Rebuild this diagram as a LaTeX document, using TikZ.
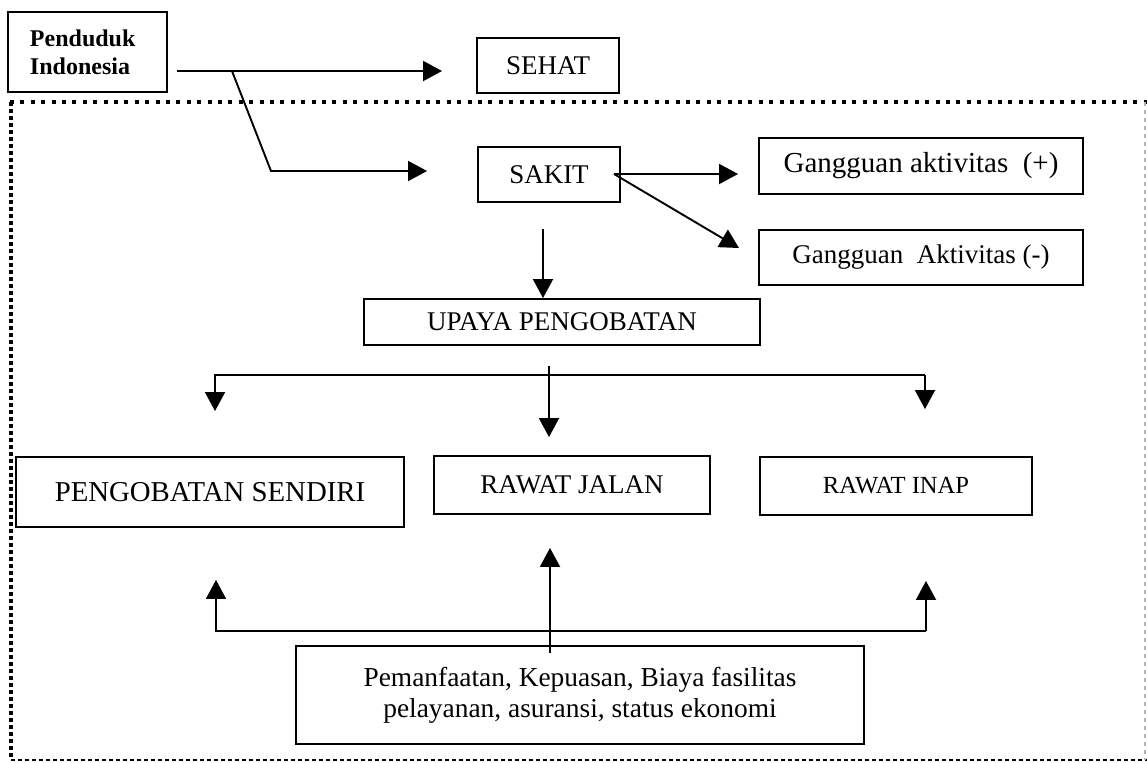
\documentclass[tikz,border=0pt]{standalone}
\usepackage{fontspec}
\setmainfont{Liberation Serif}
\usetikzlibrary{arrows.meta}

\begin{document}
\begin{tikzpicture}[x=0.5pt,y=-0.5pt,
  box/.style={draw, line width=0.95pt, inner sep=0pt, font=\fontsize{13.5}{16}\selectfont},
  arr/.style={line width=0.95pt, -{Triangle[length=9.5pt,width=10pt]}},
  link/.style={line width=0.95pt}]
\useasboundingbox (0,0) rectangle (1147,762);
% dotted frame round the sick branch
\draw[line width=2pt, dash pattern=on 2pt off 3.2pt] (10,102) -- (1147,102);
\draw[line width=2pt, dash pattern=on 2pt off 1.5pt] (11,102) -- (11,760);
\draw[line width=1.2pt, dash pattern=on 2pt off 1.5pt] (11,760) -- (1147,760);
\draw[line width=0.8pt, gray!60, dash pattern=on 2pt off 2pt] (1145,102) -- (1145,760);
% population and first split
\node[box, minimum width=79.5pt, minimum height=40pt, text width=57.5pt, align=left, font=\bfseries\fontsize{12}{14}\selectfont] (pend) at (87.5,52) {Penduduk\\Indonesia};
\node[box, minimum width=71pt, minimum height=27.5pt] (sehat) at (548,65.5) {SEHAT};
\node[box, minimum width=71pt, minimum height=27.5pt] (sakit) at (549,174.5) {SAKIT};
\coordinate (pout) at (177,71);
\coordinate (split) at (232,71);
\coordinate (bend) at (271,171);
\draw[arr, shorten >=17pt] (pout) -- (sehat.west |- pout);
\draw[arr, shorten >=25pt] (split) -- (bend) -- (sakit.west |- bend);
% activity disturbance
\node[box, minimum width=162pt, minimum height=28pt, font=\fontsize{14.5}{16}\selectfont] (gplus) at (921,166) {Gangguan aktivitas~~(+)};
\node[box, minimum width=162pt, minimum height=27.5pt] (gmin) at (921,257.5) {Gangguan~~Aktivitas (-)};
\coordinate (sk) at (614,174);
\coordinate (gmtip) at (739,248);
\draw[arr, shorten >=10pt] (sk) -- (gplus.west |- sk);
\draw[arr] (sk) -- (gmtip);
% treatment effort
\node[box, minimum width=198pt, minimum height=23pt] (upaya) at (562,322) {UPAYA PENGOBATAN};
\coordinate (sd) at (543,229);
\draw[arr] (sd) -- (sd |- upaya.north);
% three kinds of treatment
\node[box, minimum width=194pt, minimum height=35pt, font=\fontsize{14.4}{16}\selectfont] (sendiri) at (210,492) {PENGOBATAN SENDIRI};
\node[box, minimum width=138pt, minimum height=29pt] (jalan) at (572,485) {RAWAT JALAN};
\node[box, minimum width=136pt, minimum height=29pt, font=\fontsize{12.3}{14}\selectfont] (inap) at (896,486) {RAWAT INAP};
\coordinate (ud) at (549,366);
\coordinate (bl) at (215,375);
\coordinate (br) at (925,375);
\draw[arr, shorten >=22.5pt] (br) -- (bl) -- (bl |- sendiri.north);
\draw[arr, shorten >=23.5pt] (br) -- (br |- inap.north);
\draw[arr, shorten >=9pt] (ud) -- (ud |- jalan.north);
% factors feeding back
\node[box, minimum width=284pt, minimum height=49pt, align=center, font=\fontsize{13.7}{15.5}\selectfont] (faktor) at (580,695) {Pemanfaatan, Kepuasan, Biaya fasilitas\\pelayanan, asuransi, status ekonomi};
\coordinate (fl) at (216,631);
\coordinate (fr) at (926,631);
\coordinate (fu) at (550,653);
\draw[arr, shorten >=26pt] (fr) -- (fl) -- (fl |- sendiri.south);
\draw[arr, shorten >=32.5pt] (fr) -- (fr |- inap.south);
\draw[arr, shorten >=16.5pt] (fu) -- (fu |- jalan.south);
\end{tikzpicture}
\end{document}
